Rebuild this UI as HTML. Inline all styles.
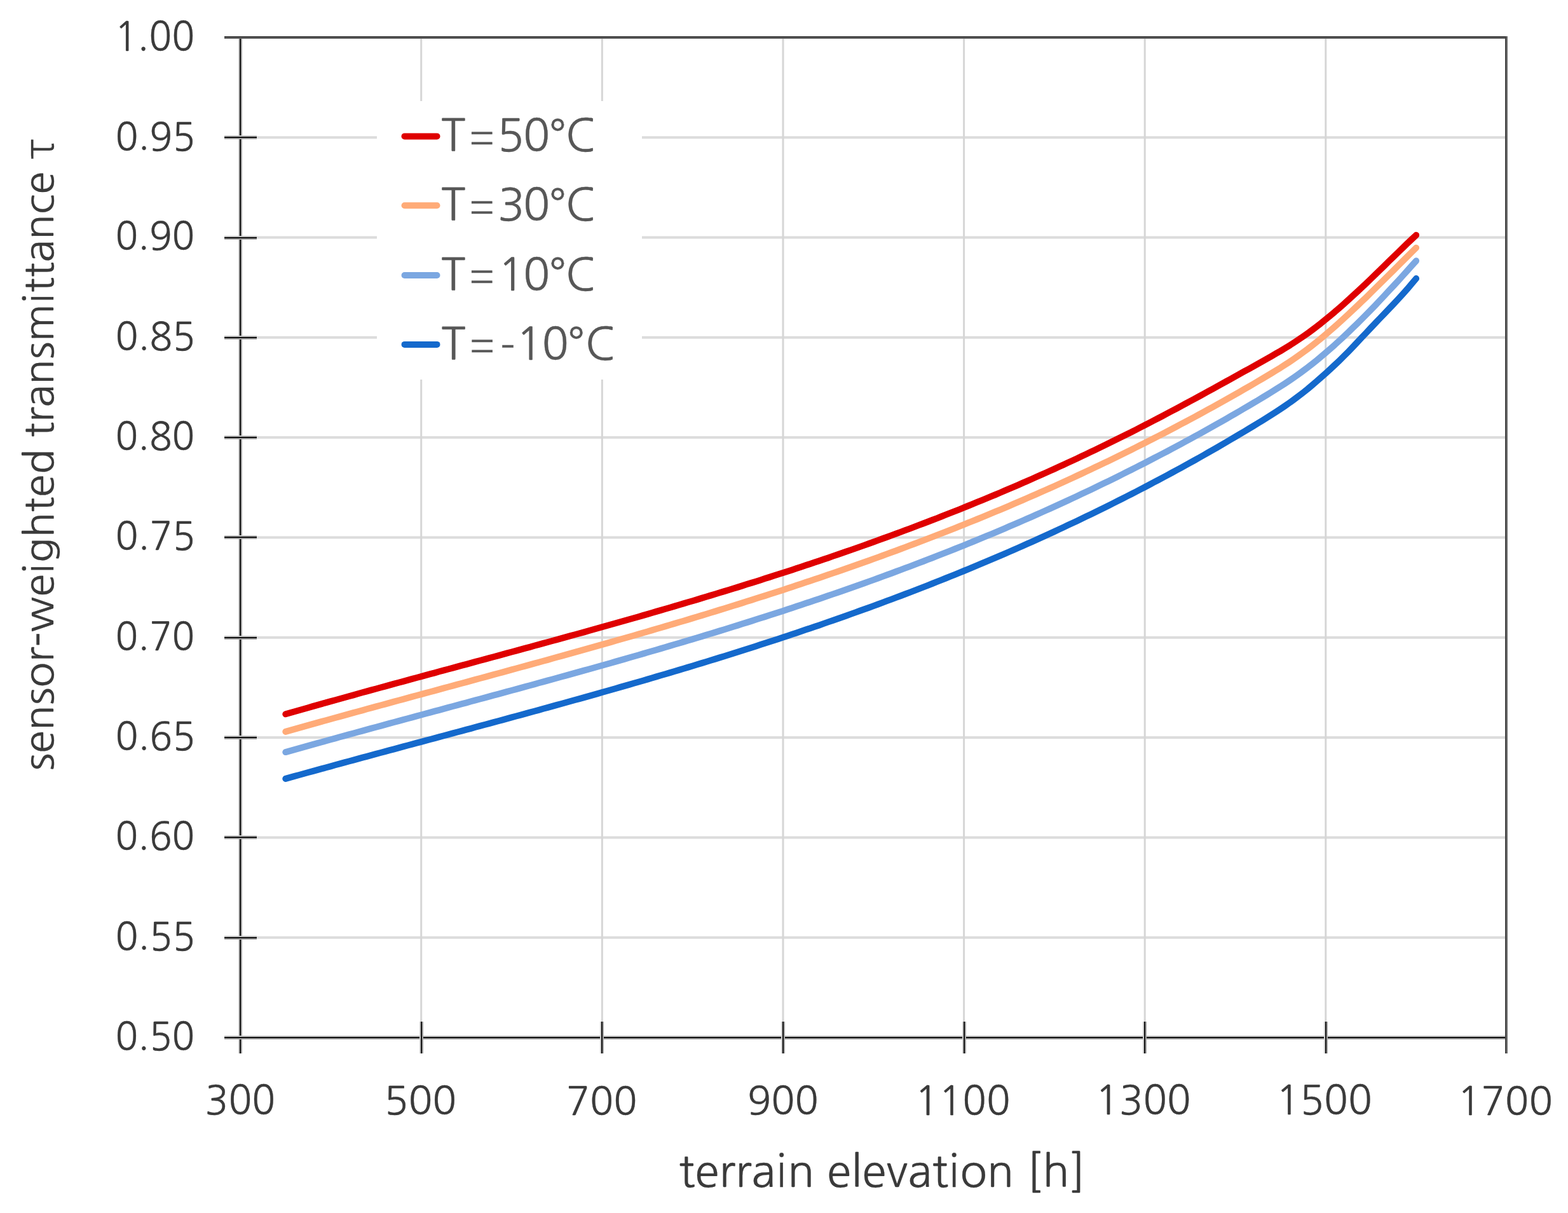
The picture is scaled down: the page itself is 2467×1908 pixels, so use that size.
<!DOCTYPE html>
<html><head><meta charset="utf-8"><title>sensor-weighted transmittance vs terrain elevation</title>
<style>
html,body{margin:0;padding:0;background:#fff;overflow:hidden;}
svg{display:block;}
text{font-family:'NanumGothic','Liberation Sans',sans-serif;}
</style></head><body>
<svg width="2467" height="1908" viewBox="0 0 2467 1908">
<rect width="2467" height="1908" fill="#fff"/>
<g><rect x="381" y="1472.7" width="1987" height="4" fill="#dcdcdc"/><rect x="381" y="1315.4" width="1987" height="4" fill="#dcdcdc"/><rect x="381" y="1158.1" width="1987" height="4" fill="#dcdcdc"/><rect x="381" y="1000.8" width="1987" height="4" fill="#dcdcdc"/><rect x="381" y="843.4" width="1987" height="4" fill="#dcdcdc"/><rect x="381" y="686.1" width="1987" height="4" fill="#dcdcdc"/><rect x="381" y="528.8" width="1987" height="4" fill="#dcdcdc"/><rect x="381" y="371.5" width="1987" height="4" fill="#dcdcdc"/><rect x="381" y="214.2" width="1987" height="4" fill="#dcdcdc"/><rect x="661.2" y="61" width="3" height="1568" fill="#d6d6d6"/><rect x="945.8" y="61" width="3" height="1568" fill="#d6d6d6"/><rect x="1230.5" y="61" width="3" height="1568" fill="#d6d6d6"/><rect x="1515.1" y="61" width="3" height="1568" fill="#d6d6d6"/><rect x="1799.7" y="61" width="3" height="1568" fill="#d6d6d6"/><rect x="2084.3" y="61" width="3" height="1568" fill="#d6d6d6"/></g>
<rect x="593" y="159" width="417" height="438" fill="#fff"/>
<rect x="353" y="57" width="2019" height="2" fill="#3b3b3b"/><rect x="353" y="59" width="2019" height="2" fill="#636363"/>
<rect x="2368" y="57" width="2" height="1600" fill="#444"/><rect x="2370" y="57" width="2" height="1600" fill="#6e6e6e"/>
<g><rect x="375" y="61" width="2" height="1596" fill="#cbcbcb"/><rect x="377" y="61" width="2" height="1596" fill="#111"/><rect x="379" y="61" width="2" height="1596" fill="#a3a3a3"/><rect x="353" y="1629" width="2015" height="2" fill="#c4c4c4"/><rect x="353" y="1631" width="2015" height="2" fill="#0d0d0d"/><rect x="353" y="1633" width="2015" height="2" fill="#a3a3a3"/><rect x="353" y="1472" width="51" height="2" fill="#c4c4c4"/><rect x="353" y="1474" width="51" height="2" fill="#0d0d0d"/><rect x="353" y="1476" width="51" height="2" fill="#a3a3a3"/><rect x="353" y="1314" width="51" height="2" fill="#c4c4c4"/><rect x="353" y="1316" width="51" height="2" fill="#0d0d0d"/><rect x="353" y="1318" width="51" height="2" fill="#a3a3a3"/><rect x="353" y="1157" width="51" height="2" fill="#c4c4c4"/><rect x="353" y="1159" width="51" height="2" fill="#0d0d0d"/><rect x="353" y="1161" width="51" height="2" fill="#a3a3a3"/><rect x="353" y="1000" width="51" height="2" fill="#c4c4c4"/><rect x="353" y="1002" width="51" height="2" fill="#0d0d0d"/><rect x="353" y="1004" width="51" height="2" fill="#a3a3a3"/><rect x="353" y="842" width="51" height="2" fill="#c4c4c4"/><rect x="353" y="844" width="51" height="2" fill="#0d0d0d"/><rect x="353" y="846" width="51" height="2" fill="#a3a3a3"/><rect x="353" y="685" width="51" height="2" fill="#c4c4c4"/><rect x="353" y="687" width="51" height="2" fill="#0d0d0d"/><rect x="353" y="689" width="51" height="2" fill="#a3a3a3"/><rect x="353" y="528" width="51" height="2" fill="#c4c4c4"/><rect x="353" y="530" width="51" height="2" fill="#0d0d0d"/><rect x="353" y="532" width="51" height="2" fill="#a3a3a3"/><rect x="353" y="371" width="51" height="2" fill="#c4c4c4"/><rect x="353" y="373" width="51" height="2" fill="#0d0d0d"/><rect x="353" y="375" width="51" height="2" fill="#a3a3a3"/><rect x="353" y="213" width="51" height="2" fill="#c4c4c4"/><rect x="353" y="215" width="51" height="2" fill="#0d0d0d"/><rect x="353" y="217" width="51" height="2" fill="#a3a3a3"/><rect x="660" y="1607" width="2" height="50" fill="#cbcbcb"/><rect x="662" y="1607" width="2" height="50" fill="#111"/><rect x="664" y="1607" width="2" height="50" fill="#a3a3a3"/><rect x="944" y="1607" width="2" height="50" fill="#cbcbcb"/><rect x="946" y="1607" width="2" height="50" fill="#111"/><rect x="948" y="1607" width="2" height="50" fill="#a3a3a3"/><rect x="1229" y="1607" width="2" height="50" fill="#cbcbcb"/><rect x="1231" y="1607" width="2" height="50" fill="#111"/><rect x="1233" y="1607" width="2" height="50" fill="#a3a3a3"/><rect x="1514" y="1607" width="2" height="50" fill="#cbcbcb"/><rect x="1516" y="1607" width="2" height="50" fill="#111"/><rect x="1518" y="1607" width="2" height="50" fill="#a3a3a3"/><rect x="1798" y="1607" width="2" height="50" fill="#cbcbcb"/><rect x="1800" y="1607" width="2" height="50" fill="#111"/><rect x="1802" y="1607" width="2" height="50" fill="#a3a3a3"/><rect x="2083" y="1607" width="2" height="50" fill="#cbcbcb"/><rect x="2085" y="1607" width="2" height="50" fill="#111"/><rect x="2087" y="1607" width="2" height="50" fill="#a3a3a3"/></g>
<g><path d="M449.3,1123.3 L456.4,1121.2 L463.5,1119.2 L470.6,1117.2 L477.7,1115.2 L484.8,1113.2 L491.9,1111.1 L499.1,1109.1 L506.2,1107.1 L513.3,1105.1 L520.4,1103.2 L527.5,1101.2 L534.6,1099.2 L541.8,1097.2 L548.9,1095.2 L556.0,1093.3 L563.1,1091.3 L570.2,1089.3 L577.3,1087.4 L584.4,1085.4 L591.6,1083.5 L598.7,1081.5 L605.8,1079.6 L612.9,1077.6 L620.0,1075.7 L627.1,1073.7 L634.3,1071.8 L641.4,1069.9 L648.5,1067.9 L655.6,1066.0 L662.7,1064.1 L669.8,1062.1 L677.0,1060.2 L684.1,1058.3 L691.2,1056.3 L698.3,1054.4 L705.4,1052.5 L712.5,1050.6 L719.6,1048.6 L726.8,1046.7 L733.9,1044.8 L741.0,1042.9 L748.1,1040.9 L755.2,1039.0 L762.3,1037.1 L769.5,1035.2 L776.6,1033.2 L783.7,1031.3 L790.8,1029.4 L797.9,1027.4 L805.0,1025.5 L812.1,1023.6 L819.3,1021.6 L826.4,1019.7 L833.5,1017.8 L840.6,1015.8 L847.7,1013.9 L854.8,1011.9 L862.0,1010.0 L869.1,1008.0 L876.2,1006.1 L883.3,1004.1 L890.4,1002.1 L897.5,1000.2 L904.6,998.2 L911.8,996.2 L918.9,994.3 L926.0,992.3 L933.1,990.3 L940.2,988.3 L947.3,986.3 L954.5,984.3 L961.6,982.3 L968.7,980.3 L975.8,978.3 L982.9,976.2 L990.0,974.2 L997.1,972.2 L1004.3,970.2 L1011.4,968.1 L1018.5,966.1 L1025.6,964.0 L1032.7,961.9 L1039.8,959.9 L1047.0,957.8 L1054.1,955.7 L1061.2,953.6 L1068.3,951.5 L1075.4,949.4 L1082.5,947.3 L1089.7,945.2 L1096.8,943.1 L1103.9,940.9 L1111.0,938.8 L1118.1,936.6 L1125.2,934.5 L1132.3,932.3 L1139.5,930.1 L1146.6,928.0 L1153.7,925.8 L1160.8,923.6 L1167.9,921.4 L1175.0,919.1 L1182.2,916.9 L1189.3,914.7 L1196.4,912.4 L1203.5,910.1 L1210.6,907.9 L1217.7,905.6 L1224.8,903.3 L1232.0,901.0 L1239.1,898.7 L1246.2,896.4 L1253.3,894.0 L1260.4,891.7 L1267.5,889.3 L1274.7,886.9 L1281.8,884.6 L1288.9,882.2 L1296.0,879.8 L1303.1,877.4 L1310.2,874.9 L1317.3,872.5 L1324.5,870.0 L1331.6,867.6 L1338.7,865.1 L1345.8,862.6 L1352.9,860.1 L1360.0,857.6 L1367.2,855.0 L1374.3,852.5 L1381.4,849.9 L1388.5,847.3 L1395.6,844.7 L1402.7,842.1 L1409.8,839.5 L1417.0,836.9 L1424.1,834.2 L1431.2,831.6 L1438.3,828.9 L1445.4,826.2 L1452.5,823.5 L1459.7,820.8 L1466.8,818.0 L1473.9,815.3 L1481.0,812.5 L1488.1,809.7 L1495.2,806.9 L1502.3,804.1 L1509.5,801.3 L1516.6,798.4 L1523.7,795.5 L1530.8,792.6 L1537.9,789.7 L1545.0,786.8 L1552.2,783.9 L1559.3,780.9 L1566.4,778.0 L1573.5,775.0 L1580.6,771.9 L1587.7,768.9 L1594.9,765.9 L1602.0,762.8 L1609.1,759.7 L1616.2,756.6 L1623.3,753.5 L1630.4,750.3 L1637.5,747.2 L1644.7,744.0 L1651.8,740.8 L1658.9,737.6 L1666.0,734.3 L1673.1,731.1 L1680.2,727.8 L1687.4,724.5 L1694.5,721.2 L1701.6,717.8 L1708.7,714.5 L1715.8,711.1 L1722.9,707.7 L1730.0,704.3 L1737.2,700.8 L1744.3,697.3 L1751.4,693.8 L1758.5,690.3 L1765.6,686.8 L1772.7,683.2 L1779.9,679.7 L1787.0,676.1 L1794.1,672.4 L1801.2,668.8 L1808.3,665.1 L1815.4,661.4 L1822.5,657.7 L1829.7,654.0 L1836.8,650.2 L1843.9,646.4 L1851.0,642.7 L1858.1,638.8 L1865.2,635.0 L1872.4,631.2 L1879.5,627.3 L1886.6,623.5 L1893.7,619.6 L1900.8,615.7 L1907.9,611.8 L1915.0,607.9 L1922.2,603.9 L1929.3,600.0 L1936.4,596.1 L1943.5,592.1 L1950.6,588.2 L1957.7,584.2 L1964.9,580.3 L1972.0,576.3 L1979.1,572.3 L1986.2,568.3 L1993.3,564.4 L2000.4,560.3 L2007.5,556.2 L2014.7,552.1 L2021.8,547.8 L2028.9,543.4 L2036.0,538.9 L2043.1,534.2 L2050.2,529.4 L2057.4,524.3 L2064.5,519.1 L2071.6,513.7 L2078.7,508.2 L2085.8,502.4 L2092.9,496.6 L2100.1,490.6 L2107.2,484.4 L2114.3,478.2 L2121.4,471.8 L2128.5,465.3 L2135.6,458.8 L2142.7,452.1 L2149.9,445.3 L2157.0,438.5 L2164.1,431.7 L2171.2,424.7 L2178.3,417.8 L2185.4,410.8 L2192.6,403.9 L2199.7,397.0 L2206.8,390.1 L2213.9,383.2 L2221.0,376.5 L2228.1,369.8" fill="none" stroke="#df0000" stroke-width="10" stroke-linecap="round" stroke-linejoin="round"/><path d="M449.3,1150.9 L456.4,1148.9 L463.5,1146.9 L470.6,1144.9 L477.7,1142.9 L484.8,1140.9 L491.9,1138.9 L499.1,1136.9 L506.2,1134.9 L513.3,1133.0 L520.4,1131.0 L527.5,1129.0 L534.6,1127.1 L541.8,1125.1 L548.9,1123.1 L556.0,1121.2 L563.1,1119.2 L570.2,1117.3 L577.3,1115.3 L584.4,1113.4 L591.6,1111.4 L598.7,1109.5 L605.8,1107.6 L612.9,1105.6 L620.0,1103.7 L627.1,1101.7 L634.3,1099.8 L641.4,1097.9 L648.5,1095.9 L655.6,1094.0 L662.7,1092.1 L669.8,1090.2 L677.0,1088.2 L684.1,1086.3 L691.2,1084.4 L698.3,1082.4 L705.4,1080.5 L712.5,1078.6 L719.6,1076.7 L726.8,1074.7 L733.9,1072.8 L741.0,1070.9 L748.1,1068.9 L755.2,1067.0 L762.3,1065.1 L769.5,1063.1 L776.6,1061.2 L783.7,1059.2 L790.8,1057.3 L797.9,1055.4 L805.0,1053.4 L812.1,1051.5 L819.3,1049.5 L826.4,1047.6 L833.5,1045.6 L840.6,1043.7 L847.7,1041.7 L854.8,1039.7 L862.0,1037.8 L869.1,1035.8 L876.2,1033.8 L883.3,1031.9 L890.4,1029.9 L897.5,1027.9 L904.6,1025.9 L911.8,1023.9 L918.9,1021.9 L926.0,1019.9 L933.1,1017.9 L940.2,1015.9 L947.3,1013.9 L954.5,1011.9 L961.6,1009.9 L968.7,1007.8 L975.8,1005.8 L982.9,1003.8 L990.0,1001.7 L997.1,999.7 L1004.3,997.6 L1011.4,995.5 L1018.5,993.5 L1025.6,991.4 L1032.7,989.3 L1039.8,987.2 L1047.0,985.1 L1054.1,983.0 L1061.2,980.9 L1068.3,978.8 L1075.4,976.7 L1082.5,974.6 L1089.7,972.4 L1096.8,970.3 L1103.9,968.1 L1111.0,966.0 L1118.1,963.8 L1125.2,961.6 L1132.3,959.4 L1139.5,957.2 L1146.6,955.0 L1153.7,952.8 L1160.8,950.6 L1167.9,948.4 L1175.0,946.1 L1182.2,943.9 L1189.3,941.6 L1196.4,939.3 L1203.5,937.1 L1210.6,934.8 L1217.7,932.5 L1224.8,930.2 L1232.0,927.9 L1239.1,925.5 L1246.2,923.2 L1253.3,920.8 L1260.4,918.5 L1267.5,916.1 L1274.7,913.7 L1281.8,911.3 L1288.9,908.9 L1296.0,906.5 L1303.1,904.1 L1310.2,901.6 L1317.3,899.2 L1324.5,896.7 L1331.6,894.2 L1338.7,891.8 L1345.8,889.3 L1352.9,886.7 L1360.0,884.2 L1367.2,881.7 L1374.3,879.1 L1381.4,876.6 L1388.5,874.0 L1395.6,871.4 L1402.7,868.8 L1409.8,866.2 L1417.0,863.5 L1424.1,860.9 L1431.2,858.2 L1438.3,855.5 L1445.4,852.8 L1452.5,850.1 L1459.7,847.4 L1466.8,844.7 L1473.9,841.9 L1481.0,839.2 L1488.1,836.4 L1495.2,833.6 L1502.3,830.8 L1509.5,827.9 L1516.6,825.1 L1523.7,822.2 L1530.8,819.4 L1537.9,816.5 L1545.0,813.6 L1552.2,810.6 L1559.3,807.7 L1566.4,804.7 L1573.5,801.8 L1580.6,798.8 L1587.7,795.8 L1594.9,792.7 L1602.0,789.7 L1609.1,786.6 L1616.2,783.5 L1623.3,780.4 L1630.4,777.3 L1637.5,774.2 L1644.7,771.0 L1651.8,767.9 L1658.9,764.7 L1666.0,761.5 L1673.1,758.2 L1680.2,755.0 L1687.4,751.7 L1694.5,748.4 L1701.6,745.1 L1708.7,741.8 L1715.8,738.5 L1722.9,735.1 L1730.0,731.7 L1737.2,728.3 L1744.3,724.9 L1751.4,721.5 L1758.5,718.0 L1765.6,714.5 L1772.7,711.0 L1779.9,707.5 L1787.0,703.9 L1794.1,700.3 L1801.2,696.8 L1808.3,693.1 L1815.4,689.5 L1822.5,685.9 L1829.7,682.2 L1836.8,678.5 L1843.9,674.8 L1851.0,671.0 L1858.1,667.2 L1865.2,663.5 L1872.4,659.6 L1879.5,655.8 L1886.6,652.0 L1893.7,648.1 L1900.8,644.2 L1907.9,640.3 L1915.0,636.3 L1922.2,632.4 L1929.3,628.4 L1936.4,624.4 L1943.5,620.3 L1950.6,616.3 L1957.7,612.2 L1964.9,608.1 L1972.0,604.0 L1979.1,599.8 L1986.2,595.6 L1993.3,591.4 L2000.4,587.1 L2007.5,582.8 L2014.7,578.4 L2021.8,573.8 L2028.9,569.2 L2036.0,564.4 L2043.1,559.4 L2050.2,554.3 L2057.4,549.0 L2064.5,543.5 L2071.6,537.9 L2078.7,532.1 L2085.8,526.1 L2092.9,520.0 L2100.1,513.8 L2107.2,507.4 L2114.3,500.9 L2121.4,494.4 L2128.5,487.7 L2135.6,481.0 L2142.7,474.2 L2149.9,467.3 L2157.0,460.3 L2164.1,453.3 L2171.2,446.3 L2178.3,439.2 L2185.4,432.2 L2192.6,425.1 L2199.7,418.0 L2206.8,410.9 L2213.9,403.9 L2221.0,396.8 L2228.1,389.8" fill="none" stroke="#ffab78" stroke-width="10" stroke-linecap="round" stroke-linejoin="round"/><path d="M449.3,1183.1 L456.4,1181.1 L463.5,1179.1 L470.6,1177.1 L477.7,1175.1 L484.8,1173.1 L491.9,1171.1 L499.1,1169.2 L506.2,1167.2 L513.3,1165.2 L520.4,1163.2 L527.5,1161.3 L534.6,1159.3 L541.8,1157.4 L548.9,1155.4 L556.0,1153.5 L563.1,1151.5 L570.2,1149.6 L577.3,1147.6 L584.4,1145.7 L591.6,1143.7 L598.7,1141.8 L605.8,1139.9 L612.9,1137.9 L620.0,1136.0 L627.1,1134.1 L634.3,1132.2 L641.4,1130.2 L648.5,1128.3 L655.6,1126.4 L662.7,1124.5 L669.8,1122.5 L677.0,1120.6 L684.1,1118.7 L691.2,1116.8 L698.3,1114.9 L705.4,1112.9 L712.5,1111.0 L719.6,1109.1 L726.8,1107.2 L733.9,1105.3 L741.0,1103.3 L748.1,1101.4 L755.2,1099.5 L762.3,1097.6 L769.5,1095.6 L776.6,1093.7 L783.7,1091.8 L790.8,1089.9 L797.9,1087.9 L805.0,1086.0 L812.1,1084.1 L819.3,1082.1 L826.4,1080.2 L833.5,1078.2 L840.6,1076.3 L847.7,1074.3 L854.8,1072.4 L862.0,1070.4 L869.1,1068.5 L876.2,1066.5 L883.3,1064.5 L890.4,1062.6 L897.5,1060.6 L904.6,1058.6 L911.8,1056.6 L918.9,1054.7 L926.0,1052.7 L933.1,1050.7 L940.2,1048.7 L947.3,1046.7 L954.5,1044.7 L961.6,1042.7 L968.7,1040.6 L975.8,1038.6 L982.9,1036.6 L990.0,1034.5 L997.1,1032.5 L1004.3,1030.5 L1011.4,1028.4 L1018.5,1026.3 L1025.6,1024.3 L1032.7,1022.2 L1039.8,1020.1 L1047.0,1018.0 L1054.1,1015.9 L1061.2,1013.8 L1068.3,1011.7 L1075.4,1009.6 L1082.5,1007.5 L1089.7,1005.4 L1096.8,1003.2 L1103.9,1001.1 L1111.0,998.9 L1118.1,996.7 L1125.2,994.6 L1132.3,992.4 L1139.5,990.2 L1146.6,988.0 L1153.7,985.8 L1160.8,983.6 L1167.9,981.3 L1175.0,979.1 L1182.2,976.9 L1189.3,974.6 L1196.4,972.3 L1203.5,970.1 L1210.6,967.8 L1217.7,965.5 L1224.8,963.2 L1232.0,960.9 L1239.1,958.5 L1246.2,956.2 L1253.3,953.8 L1260.4,951.5 L1267.5,949.1 L1274.7,946.7 L1281.8,944.3 L1288.9,941.9 L1296.0,939.5 L1303.1,937.1 L1310.2,934.6 L1317.3,932.2 L1324.5,929.7 L1331.6,927.2 L1338.7,924.7 L1345.8,922.2 L1352.9,919.7 L1360.0,917.2 L1367.2,914.6 L1374.3,912.1 L1381.4,909.5 L1388.5,906.9 L1395.6,904.3 L1402.7,901.7 L1409.8,899.0 L1417.0,896.4 L1424.1,893.7 L1431.2,891.1 L1438.3,888.4 L1445.4,885.7 L1452.5,883.0 L1459.7,880.2 L1466.8,877.5 L1473.9,874.7 L1481.0,871.9 L1488.1,869.1 L1495.2,866.3 L1502.3,863.5 L1509.5,860.6 L1516.6,857.8 L1523.7,854.9 L1530.8,852.0 L1537.9,849.1 L1545.0,846.2 L1552.2,843.2 L1559.3,840.3 L1566.4,837.3 L1573.5,834.3 L1580.6,831.3 L1587.7,828.2 L1594.9,825.2 L1602.0,822.1 L1609.1,819.0 L1616.2,815.9 L1623.3,812.8 L1630.4,809.6 L1637.5,806.5 L1644.7,803.3 L1651.8,800.1 L1658.9,796.9 L1666.0,793.6 L1673.1,790.4 L1680.2,787.1 L1687.4,783.8 L1694.5,780.5 L1701.6,777.1 L1708.7,773.8 L1715.8,770.4 L1722.9,767.0 L1730.0,763.6 L1737.2,760.1 L1744.3,756.7 L1751.4,753.2 L1758.5,749.7 L1765.6,746.1 L1772.7,742.6 L1779.9,739.0 L1787.0,735.4 L1794.1,731.8 L1801.2,728.2 L1808.3,724.5 L1815.4,720.8 L1822.5,717.1 L1829.7,713.4 L1836.8,709.7 L1843.9,705.9 L1851.0,702.1 L1858.1,698.3 L1865.2,694.4 L1872.4,690.6 L1879.5,686.7 L1886.6,682.8 L1893.7,678.8 L1900.8,674.9 L1907.9,670.9 L1915.0,666.9 L1922.2,662.8 L1929.3,658.8 L1936.4,654.7 L1943.5,650.6 L1950.6,646.5 L1957.7,642.3 L1964.9,638.1 L1972.0,633.9 L1979.1,629.7 L1986.2,625.4 L1993.3,621.1 L2000.4,616.8 L2007.5,612.3 L2014.7,607.8 L2021.8,603.2 L2028.9,598.5 L2036.0,593.6 L2043.1,588.6 L2050.2,583.4 L2057.4,578.0 L2064.5,572.5 L2071.6,566.8 L2078.7,560.9 L2085.8,554.9 L2092.9,548.7 L2100.1,542.4 L2107.2,535.9 L2114.3,529.3 L2121.4,522.6 L2128.5,515.7 L2135.6,508.8 L2142.7,501.7 L2149.9,494.5 L2157.0,487.2 L2164.1,479.9 L2171.2,472.4 L2178.3,464.9 L2185.4,457.2 L2192.6,449.5 L2199.7,441.8 L2206.8,434.0 L2213.9,426.1 L2221.0,418.2 L2228.1,410.3" fill="none" stroke="#7ba7e1" stroke-width="10" stroke-linecap="round" stroke-linejoin="round"/><path d="M449.3,1224.9 L456.4,1222.9 L463.5,1220.9 L470.6,1219.0 L477.7,1217.0 L484.8,1215.0 L491.9,1213.1 L499.1,1211.1 L506.2,1209.2 L513.3,1207.2 L520.4,1205.3 L527.5,1203.3 L534.6,1201.4 L541.8,1199.4 L548.9,1197.5 L556.0,1195.6 L563.1,1193.6 L570.2,1191.7 L577.3,1189.8 L584.4,1187.9 L591.6,1185.9 L598.7,1184.0 L605.8,1182.1 L612.9,1180.2 L620.0,1178.3 L627.1,1176.4 L634.3,1174.4 L641.4,1172.5 L648.5,1170.6 L655.6,1168.7 L662.7,1166.8 L669.8,1164.9 L677.0,1163.0 L684.1,1161.1 L691.2,1159.2 L698.3,1157.2 L705.4,1155.3 L712.5,1153.4 L719.6,1151.5 L726.8,1149.6 L733.9,1147.7 L741.0,1145.8 L748.1,1143.8 L755.2,1141.9 L762.3,1140.0 L769.5,1138.1 L776.6,1136.2 L783.7,1134.2 L790.8,1132.3 L797.9,1130.4 L805.0,1128.4 L812.1,1126.5 L819.3,1124.6 L826.4,1122.6 L833.5,1120.7 L840.6,1118.7 L847.7,1116.8 L854.8,1114.8 L862.0,1112.9 L869.1,1110.9 L876.2,1108.9 L883.3,1107.0 L890.4,1105.0 L897.5,1103.0 L904.6,1101.0 L911.8,1099.1 L918.9,1097.1 L926.0,1095.1 L933.1,1093.1 L940.2,1091.1 L947.3,1089.0 L954.5,1087.0 L961.6,1085.0 L968.7,1083.0 L975.8,1080.9 L982.9,1078.9 L990.0,1076.9 L997.1,1074.8 L1004.3,1072.7 L1011.4,1070.7 L1018.5,1068.6 L1025.6,1066.5 L1032.7,1064.4 L1039.8,1062.3 L1047.0,1060.2 L1054.1,1058.1 L1061.2,1056.0 L1068.3,1053.9 L1075.4,1051.8 L1082.5,1049.6 L1089.7,1047.5 L1096.8,1045.3 L1103.9,1043.1 L1111.0,1041.0 L1118.1,1038.8 L1125.2,1036.6 L1132.3,1034.4 L1139.5,1032.2 L1146.6,1030.0 L1153.7,1027.7 L1160.8,1025.5 L1167.9,1023.2 L1175.0,1021.0 L1182.2,1018.7 L1189.3,1016.4 L1196.4,1014.1 L1203.5,1011.8 L1210.6,1009.5 L1217.7,1007.2 L1224.8,1004.9 L1232.0,1002.5 L1239.1,1000.2 L1246.2,997.8 L1253.3,995.4 L1260.4,993.0 L1267.5,990.6 L1274.7,988.2 L1281.8,985.8 L1288.9,983.4 L1296.0,980.9 L1303.1,978.4 L1310.2,976.0 L1317.3,973.5 L1324.5,971.0 L1331.6,968.5 L1338.7,965.9 L1345.8,963.4 L1352.9,960.8 L1360.0,958.3 L1367.2,955.7 L1374.3,953.1 L1381.4,950.5 L1388.5,947.9 L1395.6,945.2 L1402.7,942.6 L1409.8,939.9 L1417.0,937.2 L1424.1,934.5 L1431.2,931.8 L1438.3,929.1 L1445.4,926.3 L1452.5,923.6 L1459.7,920.8 L1466.8,918.0 L1473.9,915.2 L1481.0,912.4 L1488.1,909.5 L1495.2,906.7 L1502.3,903.8 L1509.5,900.9 L1516.6,898.0 L1523.7,895.1 L1530.8,892.1 L1537.9,889.2 L1545.0,886.2 L1552.2,883.2 L1559.3,880.2 L1566.4,877.2 L1573.5,874.1 L1580.6,871.1 L1587.7,868.0 L1594.9,864.9 L1602.0,861.7 L1609.1,858.6 L1616.2,855.4 L1623.3,852.3 L1630.4,849.1 L1637.5,845.9 L1644.7,842.6 L1651.8,839.4 L1658.9,836.1 L1666.0,832.8 L1673.1,829.5 L1680.2,826.1 L1687.4,822.8 L1694.5,819.4 L1701.6,816.0 L1708.7,812.6 L1715.8,809.2 L1722.9,805.7 L1730.0,802.2 L1737.2,798.7 L1744.3,795.2 L1751.4,791.6 L1758.5,788.1 L1765.6,784.5 L1772.7,780.9 L1779.9,777.2 L1787.0,773.6 L1794.1,769.9 L1801.2,766.2 L1808.3,762.5 L1815.4,758.7 L1822.5,755.0 L1829.7,751.2 L1836.8,747.4 L1843.9,743.5 L1851.0,739.7 L1858.1,735.8 L1865.2,731.9 L1872.4,727.9 L1879.5,724.0 L1886.6,720.0 L1893.7,716.0 L1900.8,711.9 L1907.9,707.9 L1915.0,703.8 L1922.2,699.7 L1929.3,695.5 L1936.4,691.3 L1943.5,687.1 L1950.6,682.9 L1957.7,678.7 L1964.9,674.4 L1972.0,670.1 L1979.1,665.8 L1986.2,661.4 L1993.3,657.0 L2000.4,652.5 L2007.5,648.0 L2014.7,643.3 L2021.8,638.5 L2028.9,633.5 L2036.0,628.4 L2043.1,623.1 L2050.2,617.6 L2057.4,611.9 L2064.5,605.9 L2071.6,599.8 L2078.7,593.5 L2085.8,587.2 L2092.9,580.7 L2100.1,574.0 L2107.2,567.3 L2114.3,560.3 L2121.4,553.2 L2128.5,545.8 L2135.6,538.3 L2142.7,530.7 L2149.9,523.1 L2157.0,515.5 L2164.1,508.0 L2171.2,500.6 L2178.3,493.2 L2185.4,485.8 L2192.6,478.2 L2199.7,470.6 L2206.8,462.8 L2213.9,454.9 L2221.0,446.6 L2228.1,438.1" fill="none" stroke="#1469cc" stroke-width="10" stroke-linecap="round" stroke-linejoin="round"/></g>
<g><line x1="636.5" y1="214.4" x2="687.5" y2="214.4" stroke="#df0000" stroke-width="10" stroke-linecap="round"/><line x1="636.5" y1="323.3" x2="687.5" y2="323.3" stroke="#ffab78" stroke-width="10" stroke-linecap="round"/><line x1="636.5" y1="433.0" x2="687.5" y2="433.0" stroke="#7ba7e1" stroke-width="10" stroke-linecap="round"/><line x1="636.5" y1="541.9" x2="687.5" y2="541.9" stroke="#1469cc" stroke-width="10" stroke-linecap="round"/></g>
<g><text transform="matrix(0.98139,0,0,1.02486,8.918,-40.892) translate(303,1652.0)" font-size="60" fill="#3a3a3a" stroke="#3a3a3a" stroke-width="0.3" text-anchor="end">0<tspan dy="-3">.</tspan><tspan dy="3">50</tspan></text>
<text transform="matrix(0.98943,0,0,1.02486,7.482,-37.330) translate(303,1494.7)" font-size="60" fill="#3a3a3a" stroke="#3a3a3a" stroke-width="0.3" text-anchor="end">0<tspan dy="-3">.</tspan><tspan dy="3">55</tspan></text>
<text transform="matrix(0.98139,0,0,1.02486,8.918,-33.757) translate(303,1337.4)" font-size="60" fill="#3a3a3a" stroke="#3a3a3a" stroke-width="0.3" text-anchor="end">0<tspan dy="-3">.</tspan><tspan dy="3">60</tspan></text>
<text transform="matrix(0.98943,0,0,1.02486,7.482,-29.158) translate(303,1180.1)" font-size="60" fill="#3a3a3a" stroke="#3a3a3a" stroke-width="0.3" text-anchor="end">0<tspan dy="-3">.</tspan><tspan dy="3">65</tspan></text>
<text transform="matrix(0.98139,0,0,1.02887,8.918,-29.496) translate(303,1022.8)" font-size="60" fill="#3a3a3a" stroke="#3a3a3a" stroke-width="0.3" text-anchor="end">0<tspan dy="-3">.</tspan><tspan dy="3">70</tspan></text>
<text transform="matrix(0.98943,0,0,1.02486,7.482,-21.912) translate(303,865.4)" font-size="60" fill="#3a3a3a" stroke="#3a3a3a" stroke-width="0.3" text-anchor="end">0<tspan dy="-3">.</tspan><tspan dy="3">75</tspan></text>
<text transform="matrix(0.98139,0,0,1.02486,8.918,-17.324) translate(303,708.1)" font-size="60" fill="#3a3a3a" stroke="#3a3a3a" stroke-width="0.3" text-anchor="end">0<tspan dy="-3">.</tspan><tspan dy="3">80</tspan></text>
<text transform="matrix(0.98943,0,0,1.02486,7.482,-13.701) translate(303,550.8)" font-size="60" fill="#3a3a3a" stroke="#3a3a3a" stroke-width="0.3" text-anchor="end">0<tspan dy="-3">.</tspan><tspan dy="3">85</tspan></text>
<text transform="matrix(0.98139,0,0,1.02486,8.918,-10.138) translate(303,393.5)" font-size="60" fill="#3a3a3a" stroke="#3a3a3a" stroke-width="0.3" text-anchor="end">0<tspan dy="-3">.</tspan><tspan dy="3">90</tspan></text>
<text transform="matrix(0.98943,0,0,1.02486,7.482,-5.547) translate(303,236.2)" font-size="60" fill="#3a3a3a" stroke="#3a3a3a" stroke-width="0.3" text-anchor="end">0<tspan dy="-3">.</tspan><tspan dy="3">95</tspan></text>
<text transform="matrix(0.98996,0,0,1.06116,6.325,-3.507) translate(303,78.9)" font-size="60" fill="#3a3a3a" stroke="#3a3a3a" stroke-width="0.3" text-anchor="end">1<tspan dy="-3">.</tspan><tspan dy="3">00</tspan></text>
<text transform="matrix(1.01390,0,0,1.03671,-5.544,-64.934) translate(378.1,1754)" font-size="60" fill="#3a3a3a" stroke="#3a3a3a" stroke-width="0.3" text-anchor="middle">300</text>
<text transform="matrix(1.04441,0,0,1.01465,-30.756,-26.223) translate(662.7,1754)" font-size="60" fill="#3a3a3a" stroke="#3a3a3a" stroke-width="0.3" text-anchor="middle">500</text>
<text transform="matrix(1.02374,0,0,1.01968,-23.223,-34.880) translate(947.3,1754)" font-size="60" fill="#3a3a3a" stroke="#3a3a3a" stroke-width="0.3" text-anchor="middle">700</text>
<text transform="matrix(1.02383,0,0,1.01465,-29.552,-26.223) translate(1232.0,1754)" font-size="60" fill="#3a3a3a" stroke="#3a3a3a" stroke-width="0.3" text-anchor="middle">900</text>
<text transform="matrix(1.03408,0,0,1.03681,-53.923,-64.101) translate(1516.6,1754)" font-size="60" fill="#3a3a3a" stroke="#3a3a3a" stroke-width="0.3" text-anchor="middle">1100</text>
<text transform="matrix(1.03369,0,0,1.03532,-63.379,-62.467) translate(1801.2,1754)" font-size="60" fill="#3a3a3a" stroke="#3a3a3a" stroke-width="0.3" text-anchor="middle">1300</text>
<text transform="matrix(1.04146,0,0,1.03671,-89.159,-64.934) translate(2085.8,1754)" font-size="60" fill="#3a3a3a" stroke="#3a3a3a" stroke-width="0.3" text-anchor="middle">1500</text>
<text transform="matrix(1.03380,0,0,1.01968,-82.719,-34.880) translate(2370.4,1754)" font-size="60" fill="#3a3a3a" stroke="#3a3a3a" stroke-width="0.3" text-anchor="middle">1700</text>
<text transform="matrix(0.99996,0,0,0.97143,3.001,53.343) translate(1385,1867)" font-size="70" fill="#3a3a3a" stroke="#3a3a3a" stroke-width="0.3" text-anchor="middle">terra<tspan font-family="'Noto Sans CJK JP',sans-serif" font-weight="300" font-size="72.8">i</tspan>n elevat<tspan font-family="'Noto Sans CJK JP',sans-serif" font-weight="300" font-size="72.8">i</tspan>on [h]</text>
<text transform="matrix(0.96515,0,0,0.99355,2.727,4.856) translate(84,715) rotate(-90)" font-size="66" fill="#3a3a3a" stroke="#3a3a3a" stroke-width="0.3" text-anchor="middle">sensor-we<tspan font-family="'Noto Sans CJK JP',sans-serif" font-weight="300" font-size="68.6">i</tspan>ghted transm<tspan font-family="'Noto Sans CJK JP',sans-serif" font-weight="300" font-size="68.6">i</tspan>ttance <tspan font-family="'Noto Sans CJK JP',sans-serif" font-weight="300" font-size="68.6">τ</tspan></text>
<text font-size="69.9" fill="#575757" stroke="#575757" stroke-width="0.4"><tspan x="694.00" y="238.30">T</tspan><tspan x="739.50" y="242.80" font-family="'Noto Sans CJK JP',sans-serif" font-weight="300">=</tspan><tspan x="782.35" y="238.30">5</tspan><tspan x="823.10" y="238.30">0</tspan><tspan x="863.45" y="235.80" font-family="'Liberation Sans',sans-serif">°</tspan><tspan x="889.65" y="238.30">C</tspan></text>
<text font-size="69.9" fill="#575757" stroke="#575757" stroke-width="0.4"><tspan x="694.00" y="347.20">T</tspan><tspan x="739.50" y="351.70" font-family="'Noto Sans CJK JP',sans-serif" font-weight="300">=</tspan><tspan x="783.25" y="347.20">3</tspan><tspan x="823.10" y="347.20">0</tspan><tspan x="863.45" y="344.70" font-family="'Liberation Sans',sans-serif">°</tspan><tspan x="889.65" y="347.20">C</tspan></text>
<text font-size="69.9" fill="#575757" stroke="#575757" stroke-width="0.4"><tspan x="694.00" y="456.90">T</tspan><tspan x="739.50" y="461.40" font-family="'Noto Sans CJK JP',sans-serif" font-weight="300">=</tspan><tspan x="783.15" y="456.90">1</tspan><tspan x="823.10" y="456.90">0</tspan><tspan x="863.45" y="454.40" font-family="'Liberation Sans',sans-serif">°</tspan><tspan x="889.65" y="456.90">C</tspan></text>
<text font-size="69.9" fill="#575757" stroke="#575757" stroke-width="0.4"><tspan x="694.15" y="565.80">T</tspan><tspan x="739.90" y="570.30" font-family="'Noto Sans CJK JP',sans-serif" font-weight="300">=</tspan><tspan x="787.35" y="564.30" font-family="'Noto Sans CJK JP',sans-serif" font-weight="300">-</tspan><tspan x="811.75" y="565.80">1</tspan><tspan x="852.40" y="565.80">0</tspan><tspan x="892.80" y="563.30" font-family="'Liberation Sans',sans-serif">°</tspan><tspan x="920.70" y="565.80">C</tspan></text></g>
</svg></body></html>
